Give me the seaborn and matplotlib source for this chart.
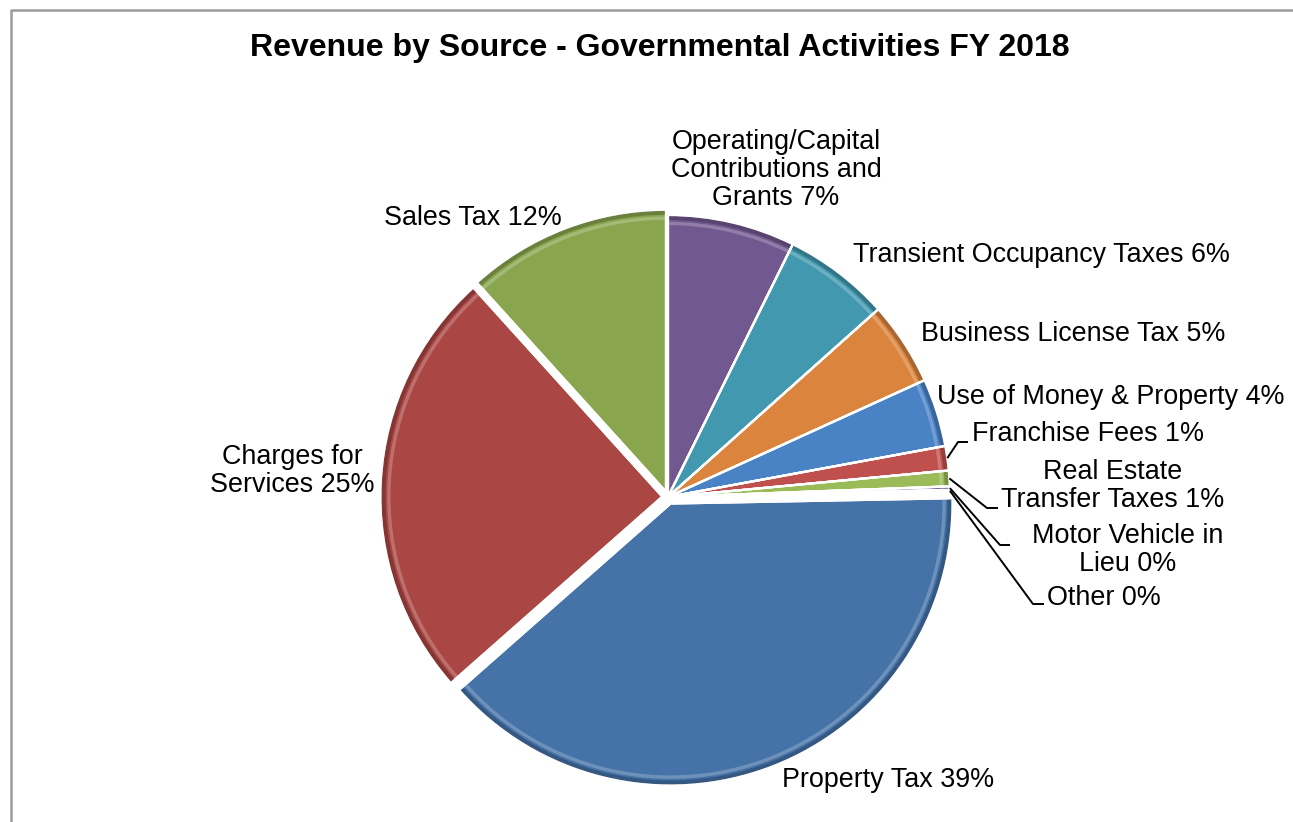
import matplotlib
matplotlib.use("Agg")
import matplotlib.pyplot as plt
from matplotlib.patches import Wedge
import matplotlib.colors as mcolors
import numpy as np
import seaborn as sns

# Revenue shares (%) in clockwise order starting at 12 o'clock
categories = [
    "Operating/Capital\nContributions and\nGrants",
    "Transient Occupancy Taxes",
    "Business License Tax",
    "Use of Money & Property",
    "Franchise Fees",
    "Real Estate\nTransfer Taxes",
    "Motor Vehicle in\nLieu",
    "Other",
    "Property Tax",
    "Charges for\nServices",
    "Sales Tax",
]
shares = [7.3, 6.1, 4.8, 3.9, 1.4, 0.9, 0.2, 0.1, 38.8, 24.8, 11.7]
title = "Revenue by Source - Governmental Activities FY 2018"

palette = sns.color_palette([
    "#71588F", "#4198AF", "#DB843D", "#4A82C6", "#C0504D", "#9BBB59",
    "#8064A2", "#4BACC6", "#4572A7", "#AA4643", "#89A54E",
])
explode = [0, 0, 0, 0, 0, 0, 0, 0, 0.025, 0.02, 0.02]

sns.set_theme(style="white")
plt.rcParams["font.family"] = ["Liberation Sans", "DejaVu Sans"]

W, H = 1293, 822
fig = plt.figure(figsize=(W / 100, H / 100), dpi=100)
ax = fig.add_axes([0, 0, 1, 1])

def fy(y):
    """Convert a top-down pixel row into axis units."""
    return H - y

cx, cy, R = 668, fy(497), 282
wedges, _ = ax.pie(
    shares, colors=palette, startangle=90, counterclock=False,
    explode=[e * R for e in explode], center=(cx, cy), radius=R,
    wedgeprops=dict(edgecolor="white", linewidth=1.6),
)

# Bevel: soft dark outer rim plus a light inner highlight on every slice
for w, col in zip(wedges, palette):
    base = np.array(mcolors.to_rgb(col))
    dark = base * 0.6
    light = base + (1 - base) * 0.5
    c = w.center
    ax.add_patch(Wedge(c, w.r, w.theta1, w.theta2, width=w.r * 0.018,
                       facecolor=dark, edgecolor="none", alpha=0.55, zorder=3))
    ax.add_patch(Wedge(c, w.r * 0.976, w.theta1, w.theta2, width=w.r * 0.012,
                       facecolor=light, edgecolor="none", alpha=0.45, zorder=3))
    ax.add_patch(Wedge(c, w.r, w.theta1, w.theta2, facecolor="none",
                       edgecolor="white", linewidth=1.6, zorder=4))

ax.set_xlim(0, W)
ax.set_ylim(0, H)
ax.set_aspect("equal")
ax.axis("off")

labels = [f"{name} {round(v)}%" for name, v in zip(categories, shares)]

# Label placement (pixel positions, ha) and optional leader elbows
label_layout = [
    (776, 170, "center"),
    (853, 255, "left"),
    (921, 334, "left"),
    (937, 397, "left"),
    (972, 434, "left"),
    (1113, 486, "center"),
    (1128, 550, "center"),
    (1047, 598, "left"),
    (888, 780, "center"),
    (292, 471, "center"),
    (473, 218, "center"),
]
leaders = {
    4: [(958, 442), (968, 442)],
    5: [(987, 508), (998, 508)],
    6: [(1000, 545), (1010, 545)],
    7: [(1033, 604), (1044, 604)],
}

fs = 19.4
for i, (txt, (x, y, ha)) in enumerate(zip(labels, label_layout)):
    ax.text(x, fy(y), txt, ha=ha, va="center", fontsize=fs,
            color="black", linespacing=1.1, zorder=6)
    if i in leaders:
        w = wedges[i]
        mid = np.deg2rad((w.theta1 + w.theta2) / 2)
        sx = w.center[0] + w.r * np.cos(mid)
        sy = w.center[1] + w.r * np.sin(mid)
        pts = [(sx, sy)] + [(px, fy(py)) for px, py in leaders[i]]
        ax.plot([p[0] for p in pts], [p[1] for p in pts], color="black",
                lw=1.4, zorder=5, solid_capstyle="butt")

ax.text(660, fy(48), title, ha="center", va="center", fontsize=23,
        fontweight="bold", color="black")

# Chart area frame
ax.plot([11, 11, W + 5], [-5, fy(10), fy(10)], color="#9a9a9a", lw=1.8,
        clip_on=False, zorder=7)

fig.savefig("out.png", dpi=100, facecolor="white")
